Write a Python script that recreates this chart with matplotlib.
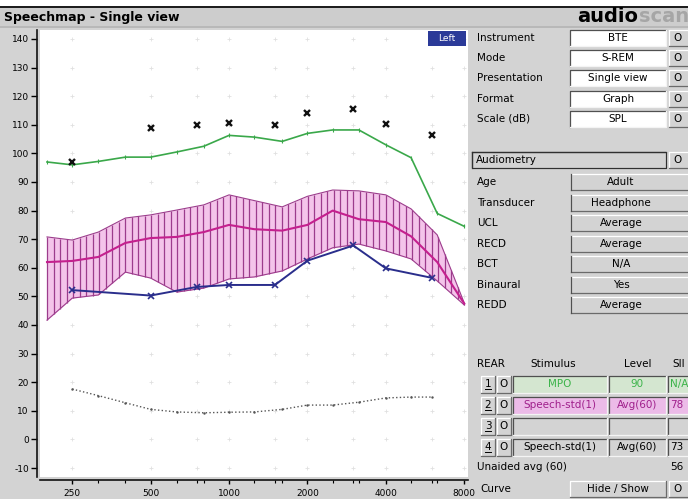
import numpy as np
import matplotlib
matplotlib.use('Agg')
import matplotlib.pyplot as plt
from matplotlib.patches import Rectangle
from matplotlib.ticker import FixedLocator, NullFormatter

# ---------------- data ----------------
band_freq = [200, 250, 315, 400, 500, 630, 800, 1000, 1250, 1600, 2000, 2500, 3150, 4000, 5000, 6300, 8000]
band_upper = [70.8, 69.7, 72.5, 77.4, 78.5, 80.2, 82.0, 85.5, 83.5, 81.3, 85.0, 87.2, 86.9, 85.5, 80.6, 71.5, 47.7]
band_lower = [41.7, 49.4, 50.5, 58.5, 56.4, 51.5, 52.9, 56.1, 56.8, 58.9, 63.1, 67.0, 68.3, 65.9, 63.1, 55.4, 47.0]
band_center = [62.0, 62.4, 63.8, 68.7, 70.4, 70.8, 72.5, 75.0, 73.5, 73.0, 75.0, 80.0, 77.0, 76.0, 71.0, 62.0, 47.5]

mpo_freq = [200, 250, 315, 400, 500, 630, 800, 1000, 1250, 1600, 2000, 2500, 3150, 4000, 5000, 6300, 8000]
mpo_vals = [97.0, 96.0, 97.2, 98.7, 98.7, 100.5, 102.5, 106.3, 105.7, 104.2, 107.0, 108.2, 108.2, 103.0, 98.5, 79.0, 74.5]

aided_freq = [250, 500, 750, 1000, 1500, 2000, 3000, 4000, 6000]
aided_vals = [52.2, 50.3, 53.3, 54.0, 54.0, 62.5, 67.8, 59.8, 56.5]

ucl_freq = [250, 500, 750, 1000, 1500, 2000, 3000, 4000, 6000]
ucl_vals = [97.0, 109.0, 110.0, 110.6, 110.0, 114.3, 115.5, 110.3, 106.4]

thr_freq = [250, 315, 400, 500, 630, 800, 1000, 1250, 1600, 2000, 2500, 3150, 4000, 5000, 6000]
thr_vals = [17.6, 15.3, 12.8, 10.5, 9.6, 9.3, 9.5, 9.6, 10.5, 12.0, 12.0, 13.0, 14.5, 14.8, 14.8]

x_ticks = [250, 500, 1000, 2000, 4000, 8000]
x_ticklabels = ['250', '500', '1000', '2000', '4000', '8000']
x_minor = [315, 400, 630, 750, 800, 1250, 1500, 1600, 2500, 3000, 3150, 5000, 6000, 6300]
grid_freq = [250, 500, 750, 1000, 1500, 2000, 3000, 4000, 6000, 8000]
y_ticks = list(range(-10, 150, 10))

setup_labels = ['Instrument', 'Mode', 'Presentation', 'Format', 'Scale (dB)']
setup_values = ['BTE', 'S-REM', 'Single view', 'Graph', 'SPL']
aud_labels = ['Age', 'Transducer', 'UCL', 'RECD', 'BCT', 'Binaural', 'REDD']
aud_values = ['Adult', 'Headphone', 'Average', 'Average', 'N/A', 'Yes', 'Average']
rear_nums = ['1', '2', '3', '4']
rear_stim = ['MPO', 'Speech-std(1)', '', 'Speech-std(1)']
rear_level = ['90', 'Avg(60)', '', 'Avg(60)']
rear_sii = ['N/A', '78', '', '73']

# ---------------- figure ----------------
W, H = 688, 499
BG = '#d3d3d3'
fig = plt.figure(figsize=(W / 100, H / 100), dpi=100)
fig.patch.set_facecolor(BG)

def fx(x):
    return x / W

def fy(y):
    return 1 - y / H

PX_PER_DB = 2.86
top_px, bot_px = 30, 477
ymax = 140 + (39 - top_px) / PX_PER_DB
ymin = 140 - (bot_px - 39) / PX_PER_DB

ax = fig.add_axes([fx(40), fy(bot_px), (468 - 40) / W, (bot_px - top_px) / H])
ax.set_facecolor('white')
ax.set_xscale('log')
ax.set_xlim(188, 8270)
ax.set_ylim(ymin, ymax)
for s in ['top', 'right']:
    ax.spines[s].set_visible(False)
ax.spines['left'].set_position(('outward', 2.5))
ax.spines['bottom'].set_position(('outward', 2.5))
for s in ['left', 'bottom']:
    ax.spines[s].set_linewidth(1.2)
    ax.spines[s].set_color('#111111')

ax.yaxis.set_major_locator(FixedLocator(y_ticks))
ax.set_yticklabels([str(v) for v in y_ticks])
ax.xaxis.set_major_locator(FixedLocator(x_ticks))
ax.xaxis.set_minor_locator(FixedLocator(x_minor))
ax.xaxis.set_minor_formatter(NullFormatter())
ax.set_xticklabels(x_ticklabels)
ax.tick_params(axis='y', direction='out', length=4.5, width=1, labelsize=6.5, pad=1)
ax.tick_params(axis='x', which='major', direction='out', length=3, width=1, labelsize=6.5, pad=3)
ax.tick_params(axis='x', which='minor', direction='out', length=2, width=0.8)

# faint grid crosses
gf, gd = np.meshgrid(grid_freq, y_ticks)
ax.plot(gf.ravel(), gd.ravel(), ls='none', marker='+', ms=3.5, mew=0.6, color='#e0e0e0', zorder=1)

# speech band
lf = np.log(band_freq)
fh = np.geomspace(band_freq[0], band_freq[-1], 65)
up_h = np.interp(np.log(fh), lf, band_upper)
lo_h = np.interp(np.log(fh), lf, band_lower)
ax.fill_between(band_freq, band_lower, band_upper, color='#f4c4ea', lw=0, zorder=2)
ax.vlines(fh, lo_h, up_h, color='#9c3c8c', lw=0.9, zorder=3)
ax.plot(band_freq, band_upper, color='#9c3c8c', lw=0.8, zorder=3)
ax.plot(band_freq, band_lower, color='#9c3c8c', lw=0.8, zorder=3)
ax.plot(band_freq, band_center, color='#c4208e', lw=1.5, zorder=4)

# MPO (green)
ax.plot(mpo_freq, mpo_vals, color='#3aa84a', lw=1.2, marker='|', ms=3, mew=0.8, zorder=4)
# aided (blue)
ax.plot(aided_freq, aided_vals, color='#2a2e8c', lw=1.4, marker='x', ms=4, mew=1.2, zorder=5)
# UCL markers
ax.plot(ucl_freq, ucl_vals, ls='none', marker='x', color='#111111', ms=3.8, mew=1.7, zorder=5)
# threshold dotted
ax.plot(thr_freq, thr_vals, ls=':', color='#555555', lw=1.0, marker='.', ms=1.5, zorder=4)

# ---------------- overlay UI ----------------
ov = fig.add_axes([0, 0, 1, 1], zorder=10)
ov.set_xlim(0, W)
ov.set_ylim(H, 0)
ov.axis('off')
ov.patch.set_alpha(0)

def rect(x0, y0, x1, y1, fc, ec='none', lw=0.8, z=1):
    ov.add_patch(Rectangle((x0, y0), x1 - x0, y1 - y0, fc=fc, ec=ec, lw=lw, zorder=z))

def txt(x, y, s, ha='left', size=7.5, color='black', weight='normal'):
    ov.text(x, y, s, ha=ha, va='center', fontsize=size, color=color, fontweight=weight, zorder=5)

def sunken(x0, y0, x1, y1, fc):
    rect(x0, y0, x1, y1, fc)
    ov.plot([x0, x0, x1], [y1, y0, y0], color='#505050', lw=0.9, zorder=2)
    ov.plot([x0, x1, x1], [y1, y1, y0], color='#f4f4f4', lw=0.9, zorder=2)

def raised(x0, y0, x1, y1, fc=BG):
    rect(x0, y0, x1, y1, fc)
    ov.plot([x0, x0, x1], [y1, y0, y0], color='#ffffff', lw=0.9, zorder=2)
    ov.plot([x0, x1, x1], [y1, y1, y0], color='#6a6a6a', lw=0.9, zorder=2)

# title bar
rect(0, 0, W, 5.5, 'white')
rect(0, 5.5, W, 8, '#1e1e1e')
rect(0, 8, W, 27, '#cdcdcd')
rect(0, 26, W, 28, '#b8b8b8')
txt(4, 17, 'Speechmap - Single view', size=9, weight='bold')
txt(577, 16, 'audio', size=14, weight='bold')
txt(639, 16, 'scan', size=14, weight='bold', color='#a6a6a6')

# Left button
rect(428, 31, 466, 46, '#2b3a98')
txt(447, 38.5, 'Left', ha='center', size=6.5, color='white')

# setup rows
for i, (lab, val) in enumerate(zip(setup_labels, setup_values)):
    yc = 38 + i * 20.2
    txt(477, yc, lab)
    sunken(570, yc - 8, 666, yc + 8, 'white')
    txt(618, yc, val, ha='center')
    raised(669, yc - 8, 692, yc + 8)
    txt(673, yc, 'O', size=7.5)

# audiometry dropdown
sunken(472, 152, 666, 168, BG)
ov.plot([472, 666, 666, 472, 472], [152, 152, 168, 168, 152], color='#303030', lw=0.9, zorder=2)
txt(476, 160, 'Audiometry')
raised(669, 152, 692, 168)
txt(673, 160, 'O')

for i, (lab, val) in enumerate(zip(aud_labels, aud_values)):
    yc = 182 + i * 20.5
    txt(477, yc, lab)
    raised(571, yc - 8, 692, yc + 8)
    ov.plot([571, 571], [yc - 8, yc + 8], color='#505050', lw=0.9, zorder=3)
    txt(621, yc, val, ha='center')

# REAR table
txt(477, 364, 'REAR')
txt(553, 364, 'Stimulus', ha='center')
txt(638, 364, 'Level', ha='center')
txt(672, 364, 'SII')
row_fc = ['#d4e6d0', '#ecbbe8', BG, BG]
row_tc = ['#3cb44a', '#a0208c', 'black', 'black']
for i in range(4):
    yc = 384 + i * 21
    y0, y1 = yc - 8.5, yc + 8.5
    raised(481, y0, 495, y1)
    txt(488, yc, rear_nums[i], ha='center')
    ov.plot([485, 491], [yc + 5, yc + 5], color='black', lw=0.7, zorder=4)
    raised(497, y0, 511, y1)
    txt(504, yc, 'O', ha='center')
    sunken(513, y0, 607, y1, row_fc[i])
    sunken(609, y0, 666, y1, row_fc[i])
    sunken(668, y0, 692, y1, row_fc[i])
    txt(560, yc, rear_stim[i], ha='center', color=row_tc[i])
    txt(637, yc, rear_level[i], ha='center', color=row_tc[i])
    txt(670, yc, rear_sii[i], color=row_tc[i])

txt(477, 467, 'Unaided avg (60)')
txt(670, 467, '56')
txt(480, 489, 'Curve')
raised(570, 481, 666, 497)
txt(618, 489, 'Hide / Show', ha='center')
raised(669, 481, 692, 497)
txt(673, 489, 'O')

fig.savefig('out.png', dpi=100, facecolor=fig.get_facecolor())
